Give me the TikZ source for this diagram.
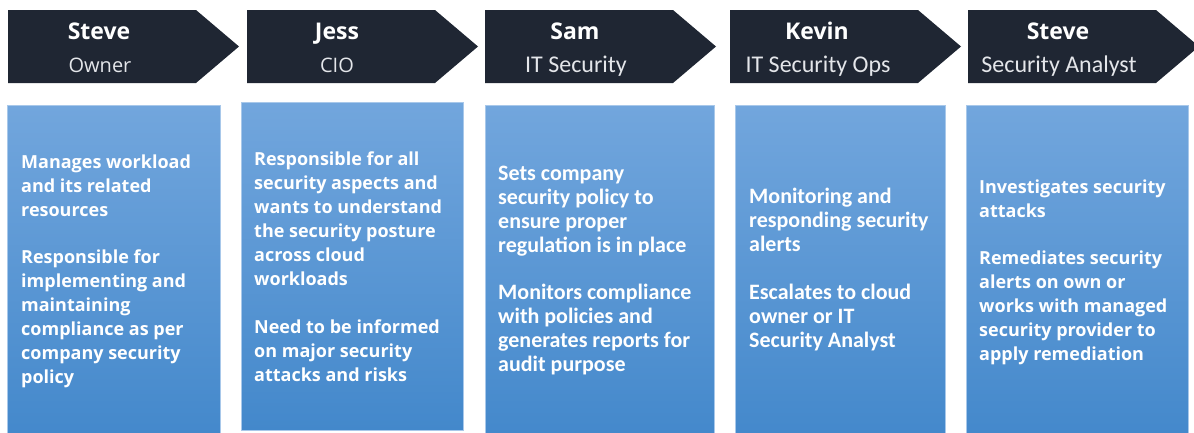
\documentclass[tikz,border=0pt]{standalone}
\usepackage{fontspec}
\setmainfont{Open Sans}
\newfontfamily\calfont{Carlito}
\definecolor{chev}{HTML}{1F2633}
\definecolor{boxtop}{HTML}{72A6DD}
\definecolor{boxbot}{HTML}{4388CB}
\definecolor{boxedge}{HTML}{A8C8EA}
\definecolor{roletxt}{HTML}{E4E6EA}
\tikzset{
  chevron/.style={fill=chev},
  panel/.style={top color=boxtop, bottom color=boxbot, draw=boxedge, line width=0.8pt},
  who/.style={text=white, font=\bfseries\fontsize{23}{24}\selectfont, anchor=base, inner sep=0pt},
  role/.style={text=roletxt, font=\fontsize{20}{24}\selectfont, anchor=base, inner sep=0pt},
  roleC/.style={role, font=\calfont\fontsize{24}{24}\selectfont},
  body/.style={text=white, align=left, anchor=north west, inner sep=0pt, font=\bfseries\fontsize{18}{24}\selectfont},
  bodyC/.style={body, font=\calfont\bfseries\fontsize{22}{24}\selectfont},
}
% strut fixing the first baseline 20pt below the top of a text block
\newcommand\firstline{\rule{0pt}{20pt}}
% header arrow starting at x = #1
\newcommand\chevronat[1]{\fill[chevron] (#1,10) -- ++(188,0) -- ++(43,36.5) -- ++(-43,36.5) -- ++(-188,0) -- cycle;}
\begin{document}
\begin{tikzpicture}[x=1pt,y=-1pt]
  \useasboundingbox (0,0) rectangle (1194,432);
  \clip (0,0) rectangle (1194,432);

  % header arrows
  \chevronat{8}
  \chevronat{247}
  \chevronat{485}
  \chevronat{730}
  \chevronat{968}

  \node[who]  (n1) at (99,39)   {Steve};
  \node[role] (r1) at (100,72)  {Owner};
  \node[who]  (n2) at (337,39)  {Jess};
  \node[role] (r2) at (337,72)  {CIO};
  \node[who]  (n3) at (575,39)  {Sam};
  \node[roleC] (r3) at (576,72) {IT Security};
  \node[who]  (n4) at (817,39)  {Kevin};
  \node[roleC] (r4) at (818,72) {IT Security Ops};
  \node[who]  (n5) at (1058,39) {Steve};
  \node[roleC] (r5) at (1059,72) {Security Analyst};

  % description panels
  \path[panel] (7,105)   rectangle (220,440);
  \path[panel] (241,102) rectangle (463,430);
  \path[panel] (485,105) rectangle (714,440);
  \path[panel] (735,105) rectangle (945,440);
  \path[panel] (966,105) rectangle (1188,440);

  \node[body] (t1) at (21,148) {\firstline Manages workload\\ and its related\\ resources\\[23pt]
    Responsible for\\ implementing and\\ maintaining\\ compliance as per\\ company security\\ policy};
  \node[body] (t2) at (254,145) {\firstline Responsible for all\\ security aspects and\\ wants to understand\\ the security posture\\ across cloud\\ workloads\\[24pt]
    Need to be informed\\ on major security\\ attacks and risks};
  \node[bodyC] (t3) at (498,160) {\firstline Sets company\\ security policy to\\ ensure proper\\ regulation is in place\\[23pt]
    Monitors compliance\\ with policies and\\ generates reports for\\ audit purpose};
  \node[bodyC] (t4) at (749,183) {\firstline Monitoring and\\ responding security\\ alerts\\[24pt]
    Escalates to cloud\\ owner or IT\\ Security Analyst};
  \node[body] (t5) at (979,173) {\firstline Investigates security\\ attacks\\[23pt]
    Remediates security\\ alerts on own or\\ works with managed\\ security provider to\\ apply remediation};
\end{tikzpicture}
\end{document}
